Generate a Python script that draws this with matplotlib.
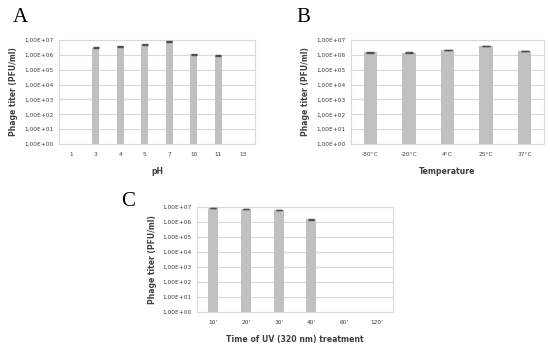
import numpy as np
import matplotlib.pyplot as plt

# dati
ph_labels = ['1', '3', '4', '5', '7', '10', '11', '13']
ph_titer = [np.nan, 3.0e6, 3.8e6, 5.0e6, 8.0e6, 1.1e6, 9.0e5, np.nan]
ph_err = [0, 1.5e5, 2e5, 2.5e5, 4e5, 6e4, 5e4, 0]

temp_labels = ['-80°C', '-20°C', '4°C', '25°C', '37°C']
temp_titer = [1.5e6, 1.4e6, 2.1e6, 4.0e6, 1.8e6]
temp_err = [8e4, 7e4, 1e5, 2e5, 9e4]

uv_labels = ["10'", "20'", "30'", "40'", "60'", "120'"]
uv_titer = [8.5e6, 7.5e6, 6.5e6, 1.5e6, np.nan, np.nan]
uv_err = [4e5, 4e5, 3e5, 1e5, 0, 0]

yticks = [10.0 ** k for k in range(0, 8)]
ytick_labels = ['1,00E+%02d' % k for k in range(0, 8)]

W, H = 550, 349
fig = plt.figure(figsize=(5.5, 3.49), dpi=100)


def panel(rect, labels, values, errs, xlabel, width, ylab_x):
    x0, y0, x1, y1 = rect
    ax = fig.add_axes([x0 / W, 1 - y1 / H, (x1 - x0) / W, (y1 - y0) / H])
    x = np.arange(len(labels))
    ax.bar(x, values, width=width, color='#c0c0c0', zorder=2)
    ax.errorbar(x, values, yerr=errs, fmt='none', ecolor='#505050',
                elinewidth=0.8, capsize=width * 8, capthick=1.0, zorder=3)
    ax.set_yscale('log')
    ax.set_ylim(1, 1e7)
    ax.set_xlim(-0.5, len(labels) - 0.5)
    ax.set_yticks(yticks)
    ax.set_yticklabels(ytick_labels)
    ax.minorticks_off()
    ax.set_xticks(x)
    ax.set_xticklabels(labels)
    ax.yaxis.grid(True, color='#d9d9d9', linewidth=0.8, zorder=0)
    for s in ax.spines.values():
        s.set_color('#d9d9d9')
        s.set_linewidth(0.8)
    ax.tick_params(length=0, labelsize=4.2, colors='#404040')
    ax.tick_params(axis='y', pad=4)
    ax.tick_params(axis='x', pad=6)
    ax.set_ylabel('Phage titer (PFU/ml)', fontsize=5.5, fontweight='bold',
                  color='#404040')
    ax.yaxis.set_label_coords(ylab_x, 0.5)
    ax.set_xlabel(xlabel, fontsize=5.6, fontweight='bold', color='#404040',
                  labelpad=7)
    return ax


panel((59, 40, 255, 144), ph_labels, ph_titer, ph_err, 'pH', 0.3, -0.21)
panel((351, 40, 544, 144), temp_labels, temp_titer, temp_err,
      'Temperature', 0.35, -0.212)
panel((197, 207, 393, 312), uv_labels, uv_titer, uv_err,
      'Time of UV (320 nm) treatment', 0.3, -0.204)

for letter, (px, py) in [('A', (20, 17)), ('B', (303, 17)), ('C', (128, 201))]:
    fig.text(px / W, 1 - py / H, letter, fontsize=15, family='Liberation Serif',
             ha='center', va='center')

fig.savefig('out.png', dpi=100)
